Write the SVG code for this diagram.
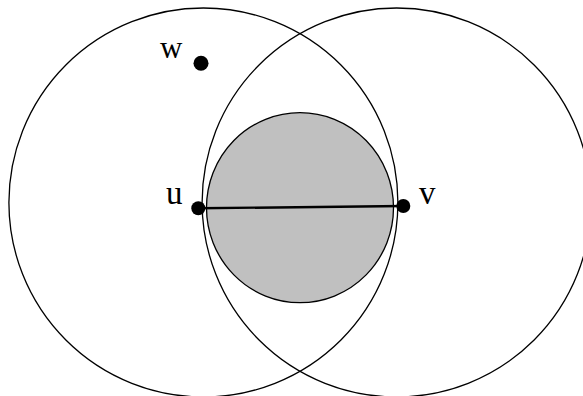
<svg xmlns="http://www.w3.org/2000/svg" width="583" height="396" viewBox="0 0 583 396">
<style>
.ring{fill:none;stroke:#000;stroke-width:1.3}
.dot{fill:#000}
.lbl{font-family:"Liberation Serif","Times New Roman",serif;font-size:33px;fill:#000}
</style>
<rect width="583" height="396" fill="#fff"/>
<g id="region">
<ellipse cx="300" cy="207.7" rx="93.5" ry="95" fill="#c0c0c0" stroke="#000" stroke-width="1.3"/>
</g>
<g id="disk-u"><circle class="ring" cx="203.4" cy="202.5" r="194.5"/></g>
<g id="disk-v"><circle class="ring" cx="396.6" cy="202.5" r="194.5"/></g>
<g id="connectors">
<line x1="198.3" y1="208.3" x2="403.3" y2="206" stroke="#000" stroke-width="2.4"/>
</g>
<g id="node-u"><circle class="dot" cx="198.3" cy="208.3" r="7"/><text class="lbl" x="166" y="204">u</text></g>
<g id="node-v"><circle class="dot" cx="403.3" cy="206" r="7"/><text class="lbl" x="419" y="204">v</text></g>
<g id="node-w"><circle class="dot" cx="201" cy="63.3" r="7.5"/><text class="lbl" x="160" y="58" style="font-size:31px">w</text></g>
</svg>
